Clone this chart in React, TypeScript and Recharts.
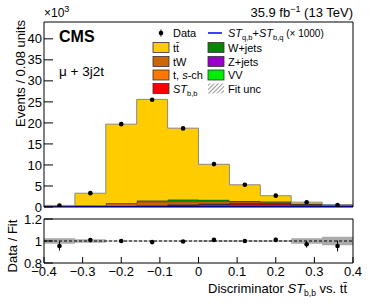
import React from 'react';
import { ComposedChart, Area, Line, Scatter, XAxis, YAxis, ErrorBar, ReferenceLine } from 'recharts';

const FONT = "'Liberation Sans', Arial, Helvetica, sans-serif";

// ---------- data (events in units of 10^3) ----------
const binEdges = [-0.4, -0.32, -0.24, -0.16, -0.08, 0, 0.08, 0.16, 0.24, 0.32, 0.4];
const binCenters = [-0.36, -0.28, -0.2, -0.12, -0.04, 0.04, 0.12, 0.2, 0.28, 0.36];

const stbb = [0.03, 0.05, 0.1, 0.2, 0.4, 0.6, 0.75, 0.75, 0.55, 0.35];
const vv = [0.005, 0.01, 0.02, 0.03, 0.03, 0.03, 0.02, 0.02, 0.01, 0.005];
const zjets = [0.02, 0.03, 0.05, 0.08, 0.08, 0.07, 0.05, 0.04, 0.02, 0.01];
const tsch = [0.02, 0.05, 0.1, 0.15, 0.15, 0.15, 0.1, 0.08, 0.05, 0.02];
const tw = [0.05, 0.15, 0.55, 0.8, 0.6, 0.45, 0.3, 0.25, 0.12, 0.04];
const wjets = [0.02, 0.05, 0.1, 0.3, 0.5, 0.45, 0.2, 0.15, 0.05, 0.02];
const ttbar = [0.235, 2.94, 18.78, 24.04, 16.99, 8.4, 3.86, 1.39, 0.35, 0.055];
const stqbX1000 = [0.02, 0.03, 0.04, 0.05, 0.06, 0.07, 0.07, 0.06, 0.05, 0.03];

const dataEvents = [0.37, 3.3, 19.7, 25.5, 18.7, 10.2, 5.3, 2.7, 1.12, 0.48];
const dataErrors = [0.02, 0.06, 0.14, 0.16, 0.14, 0.1, 0.07, 0.05, 0.03, 0.02];

const ratioValues = [0.955, 1.008, 1.0, 0.99, 0.995, 1.01, 1.0, 1.01, 0.97, 0.955];
const ratioErrors = [0.042, 0.012, 0.006, 0.006, 0.006, 0.008, 0.012, 0.02, 0.03, 0.05];
const fitUncRel = [0.024, 0.016, 0.004, 0.004, 0.005, 0.006, 0.006, 0.007, 0.024, 0.039];

const yMainTicks = [0, 5, 10, 15, 20, 25, 30, 35, 40];
const yRatioTicks = [0.8, 1, 1.2];
const xMajorTicks = [-0.4, -0.3, -0.2, -0.1, 0, 0.1, 0.2, 0.3, 0.4];

// ---------- derived tables ----------
const xMinorTicks = Array.from({ length: 41 }, (_, i) => Math.round((-0.4 + i * 0.02) * 100) / 100);
const yMinorTicks = Array.from({ length: 45 }, (_, i) => i);
const yRatioMinorTicks = Array.from({ length: 9 }, (_, i) => Math.round((0.8 + i * 0.05) * 100) / 100);

const stepRows = binEdges.map((x, i) => {
  const b = Math.min(i, binCenters.length - 1);
  return {
    x,
    stbb: stbb[b],
    vv: vv[b],
    zjets: zjets[b],
    tsch: tsch[b],
    tw: tw[b],
    wjets: wjets[b],
    ttbar: ttbar[b],
    stqb: stqbX1000[b],
    band: [1 - fitUncRel[b], 1 + fitUncRel[b]],
  };
});

const dataPoints = binCenters.map((x, i) => ({ x, y: dataEvents[i], err: dataErrors[i] }));
const ratioPoints = binCenters.map((x, i) => ({ x, y: ratioValues[i], err: ratioErrors[i] }));

const fmtX = (v: number) => {
  const r = Math.round(v * 10) / 10;
  if (r === 0) return '0';
  return (r < 0 ? '\u2212' : '') + Math.abs(r).toString();
};

const dot = (props: any) => <circle cx={props.cx} cy={props.cy} r={2.3} fill="#000" />;

const tickStyle = { fontSize: 13, fill: '#000', fontFamily: FONT };

const stackSeries = [
  { key: 'stbb', color: '#ff0000' },
  { key: 'vv', color: '#00ee00' },
  { key: 'zjets', color: '#9900cc' },
  { key: 'tsch', color: '#ff7700' },
  { key: 'tw', color: '#cc6600' },
  { key: 'wjets', color: '#008800' },
];

function MainChart() {
  return (
    <ComposedChart width={374} height={215} data={stepRows} margin={{ top: 21, right: 20, bottom: 7, left: 14 }}>
      {stackSeries.map((s) => (
        <Area
          key={s.key}
          xAxisId="main"
          yAxisId="main"
          type="stepAfter"
          dataKey={s.key}
          stackId="st"
          fill={s.color}
          fillOpacity={1}
          stroke="#222"
          strokeWidth={0.7}
          isAnimationActive={false}
        />
      ))}
      <Area
        xAxisId="main"
        yAxisId="main"
        type="stepAfter"
        dataKey="ttbar"
        stackId="st"
        fill="#ffcc00"
        fillOpacity={1}
        stroke="#888"
        strokeWidth={1}
        isAnimationActive={false}
      />
      <Line
        xAxisId="main"
        yAxisId="main"
        type="stepAfter"
        dataKey="stqb"
        stroke="#0000ff"
        strokeWidth={1.5}
        dot={false}
        isAnimationActive={false}
      />
      <Scatter xAxisId="main" yAxisId="main" data={dataPoints} dataKey="y" shape={dot} isAnimationActive={false}>
        <ErrorBar dataKey="err" direction="y" width={0} stroke="#000" strokeWidth={1} />
      </Scatter>

      <XAxis xAxisId="main" type="number" dataKey="x" domain={[-0.4, 0.4]} ticks={xMajorTicks} interval={0}
        orientation="bottom" height={1} tickSize={-6} tick={false} allowDataOverflow
        axisLine={{ stroke: '#000' }} tickLine={{ stroke: '#000' }} />
      <XAxis xAxisId="bmin" type="number" dataKey="x" domain={[-0.4, 0.4]} ticks={xMinorTicks} interval={0}
        orientation="bottom" mirror height={1} tickSize={3} tick={false} allowDataOverflow
        axisLine={false} tickLine={{ stroke: '#000' }} />
      <XAxis xAxisId="tmaj" type="number" dataKey="x" domain={[-0.4, 0.4]} ticks={xMajorTicks} interval={0}
        orientation="top" height={1} tickSize={-6} tick={false} allowDataOverflow
        axisLine={{ stroke: '#000' }} tickLine={{ stroke: '#000' }} />
      <XAxis xAxisId="tmin" type="number" dataKey="x" domain={[-0.4, 0.4]} ticks={xMinorTicks} interval={0}
        orientation="top" mirror height={1} tickSize={3} tick={false} allowDataOverflow
        axisLine={false} tickLine={{ stroke: '#000' }} />

      <YAxis yAxisId="main" type="number" dataKey="y" domain={[0, 44]} ticks={yMainTicks} interval={0}
        width={30} tickSize={-9} tickMargin={11} tick={tickStyle} allowDataOverflow
        axisLine={{ stroke: '#000' }} tickLine={{ stroke: '#000' }} />
      <YAxis yAxisId="lmin" type="number" domain={[0, 44]} ticks={yMinorTicks} interval={0}
        mirror width={1} tickSize={4.5} tick={false} allowDataOverflow
        axisLine={false} tickLine={{ stroke: '#000' }} />
      <YAxis yAxisId="rmaj" type="number" domain={[0, 44]} ticks={yMainTicks} interval={0}
        orientation="right" width={1} tickSize={-9} tick={false} allowDataOverflow
        axisLine={{ stroke: '#000' }} tickLine={{ stroke: '#000' }} />
      <YAxis yAxisId="rmin" type="number" domain={[0, 44]} ticks={yMinorTicks} interval={0}
        orientation="right" mirror width={1} tickSize={4.5} tick={false} allowDataOverflow
        axisLine={false} tickLine={{ stroke: '#000' }} />
    </ComposedChart>
  );
}

function RatioChart() {
  return (
    <ComposedChart width={374} height={102} data={stepRows} margin={{ top: 13, right: 20, bottom: 24, left: 14 }}>
      <Area
        xAxisId="main"
        yAxisId="main"
        type="stepAfter"
        dataKey="band"
        fill="#aaaaaa"
        fillOpacity={1}
        stroke="none"
        isAnimationActive={false}
      />
      <ReferenceLine xAxisId="main" yAxisId="main" y={1} stroke="#000" strokeDasharray="3 2" strokeWidth={1} />
      <Scatter xAxisId="main" yAxisId="main" data={ratioPoints} dataKey="y" shape={dot} isAnimationActive={false}>
        <ErrorBar dataKey="err" direction="y" width={0} stroke="#000" strokeWidth={1} />
      </Scatter>

      <XAxis xAxisId="main" type="number" dataKey="x" domain={[-0.4, 0.4]} ticks={xMajorTicks} interval={0}
        orientation="bottom" height={20} tickSize={-6} tickMargin={10} tick={tickStyle} tickFormatter={fmtX}
        allowDataOverflow axisLine={{ stroke: '#000' }} tickLine={{ stroke: '#000' }} />
      <XAxis xAxisId="bmin" type="number" dataKey="x" domain={[-0.4, 0.4]} ticks={xMinorTicks} interval={0}
        orientation="bottom" mirror height={1} tickSize={3} tick={false} allowDataOverflow
        axisLine={false} tickLine={{ stroke: '#000' }} />
      <XAxis xAxisId="tmaj" type="number" dataKey="x" domain={[-0.4, 0.4]} ticks={xMajorTicks} interval={0}
        orientation="top" height={1} tickSize={-6} tick={false} allowDataOverflow
        axisLine={{ stroke: '#000' }} tickLine={{ stroke: '#000' }} />
      <XAxis xAxisId="tmin" type="number" dataKey="x" domain={[-0.4, 0.4]} ticks={xMinorTicks} interval={0}
        orientation="top" mirror height={1} tickSize={3} tick={false} allowDataOverflow
        axisLine={false} tickLine={{ stroke: '#000' }} />

      <YAxis yAxisId="main" type="number" dataKey="y" domain={[0.8, 1.2]} ticks={yRatioTicks} interval={0}
        width={30} tickSize={-9} tickMargin={11} tick={tickStyle} tickFormatter={(v: number) => String(v)}
        allowDataOverflow axisLine={{ stroke: '#000' }} tickLine={{ stroke: '#000' }} />
      <YAxis yAxisId="lmin" type="number" domain={[0.8, 1.2]} ticks={yRatioMinorTicks} interval={0}
        mirror width={1} tickSize={4.5} tick={false} allowDataOverflow
        axisLine={false} tickLine={{ stroke: '#000' }} />
      <YAxis yAxisId="rmaj" type="number" domain={[0.8, 1.2]} ticks={yRatioTicks} interval={0}
        orientation="right" width={1} tickSize={-9} tick={false} allowDataOverflow
        axisLine={{ stroke: '#000' }} tickLine={{ stroke: '#000' }} />
      <YAxis yAxisId="rmin" type="number" domain={[0.8, 1.2]} ticks={yRatioMinorTicks} interval={0}
        orientation="right" mirror width={1} tickSize={4.5} tick={false} allowDataOverflow
        axisLine={false} tickLine={{ stroke: '#000' }} />
    </ComposedChart>
  );
}

const legendRows = [33, 47.5, 61.5, 75, 88.5];

function Overlay() {
  const box = (x: number, cy: number, fill: string) => (
    <rect x={x} y={cy - 5} width={16} height={10} fill={fill} stroke="#333" strokeWidth={0.8} />
  );
  const lx1 = 153, tx1 = 173, lx2 = 208, tx2 = 228;
  const fs = 11;
  const tb = (cy: number) => cy + 4;
  return (
    <svg width={374} height={307} style={{ position: 'absolute', left: 0, top: 0, pointerEvents: 'none' }}
      fontFamily={FONT}>
      <defs>
        <pattern id="hatch" width="3" height="3" patternUnits="userSpaceOnUse" patternTransform="rotate(45)">
          <rect width="3" height="3" fill="#fff" />
          <line x1="0" y1="0" x2="0" y2="3" stroke="#777" strokeWidth="1.5" />
        </pattern>
      </defs>
      {/* top texts */}
      <text x={44} y={17} fontSize={12} fill="#000">
        {'\u00d710'}<tspan dy={-5} fontSize={9}>3</tspan>
      </text>
      <text x={353} y={17} fontSize={13} fill="#000" textAnchor="end">
        {'35.9 fb'}<tspan dy={-5} fontSize={9}>{'\u22121'}</tspan><tspan dy={5}>{'  (13 TeV)'}</tspan>
      </text>
      <text x={59} y={42} fontSize={16} fontWeight="bold" fill="#000">CMS</text>
      <text x={59} y={76} fontSize={13.5} fill="#000">{'\u03bc + 3j2t'}</text>

      {/* axis titles */}
      <text x={25} y={20} fontSize={13} fill="#000" textAnchor="end" transform="rotate(-90 25 20)">
        Events / 0.08 units
      </text>
      <text x={17} y={246} fontSize={13} fill="#000" textAnchor="middle" transform="rotate(-90 17 246)">
        Data / Fit
      </text>
      <text x={347} y={293} fontSize={13} fill="#000" textAnchor="end">
        {'Discriminator '}<tspan fontStyle="italic">ST</tspan>
        <tspan dy={3} fontSize={8.5}>b,b</tspan><tspan dy={-3}>{' vs. t'}</tspan>
        <tspan>{'t\u0304'}</tspan>
      </text>

      {/* legend column 1 */}
      <line x1={161} y1={29.5} x2={161} y2={36.5} stroke="#000" strokeWidth={1} />
      <circle cx={161} cy={legendRows[0]} r={2.3} fill="#000" />
      <text x={tx1} y={tb(legendRows[0])} fontSize={fs}>Data</text>
      {box(lx1, legendRows[1], '#ffcc00')}
      <text x={tx1} y={tb(legendRows[1])} fontSize={fs}>{'tt\u0304'}</text>
      {box(lx1, legendRows[2], '#cc6600')}
      <text x={tx1} y={tb(legendRows[2])} fontSize={fs}>tW</text>
      {box(lx1, legendRows[3], '#ff7700')}
      <text x={tx1} y={tb(legendRows[3])} fontSize={fs}>{'t, '}<tspan fontStyle="italic">s</tspan>-ch</text>
      {box(lx1, legendRows[4], '#ff0000')}
      <text x={tx1} y={tb(legendRows[4])} fontSize={fs}>
        <tspan fontStyle="italic">ST</tspan><tspan dy={3} fontSize={7.5}>b,b</tspan>
      </text>

      {/* legend column 2 */}
      <line x1={lx2} y1={legendRows[0]} x2={lx2 + 14} y2={legendRows[0]} stroke="#0000ff" strokeWidth={1.5} />
      <text x={tx2} y={tb(legendRows[0])} fontSize={fs}>
        <tspan fontStyle="italic">ST</tspan><tspan dy={3} fontSize={7.5}>q,b</tspan>
        <tspan dy={-3}>+</tspan><tspan fontStyle="italic">ST</tspan><tspan dy={3} fontSize={7.5}>b,q</tspan>
        <tspan dy={-3} fontSize={10}>{' (\u00d7 1000)'}</tspan>
      </text>
      {box(lx2, legendRows[1], '#008800')}
      <text x={tx2} y={tb(legendRows[1])} fontSize={fs}>W+jets</text>
      {box(lx2, legendRows[2], '#9900cc')}
      <text x={tx2} y={tb(legendRows[2])} fontSize={fs}>Z+jets</text>
      {box(lx2, legendRows[3], '#00ee00')}
      <text x={tx2} y={tb(legendRows[3])} fontSize={fs}>VV</text>
      <rect x={lx2} y={legendRows[4] - 5} width={16} height={10} fill="url(#hatch)" stroke="none" />
      <text x={tx2} y={tb(legendRows[4])} fontSize={fs}>Fit unc</text>
    </svg>
  );
}

export default function App() {
  return (
    <div style={{ position: 'absolute', left: 0, top: 0, width: 374, height: 307, background: '#fff', fontFamily: FONT }}>
      <div style={{ position: 'absolute', left: 0, top: 0 }}>
        <MainChart />
      </div>
      <div style={{ position: 'absolute', left: 0, top: 205 }}>
        <RatioChart />
      </div>
      <Overlay />
    </div>
  );
}
